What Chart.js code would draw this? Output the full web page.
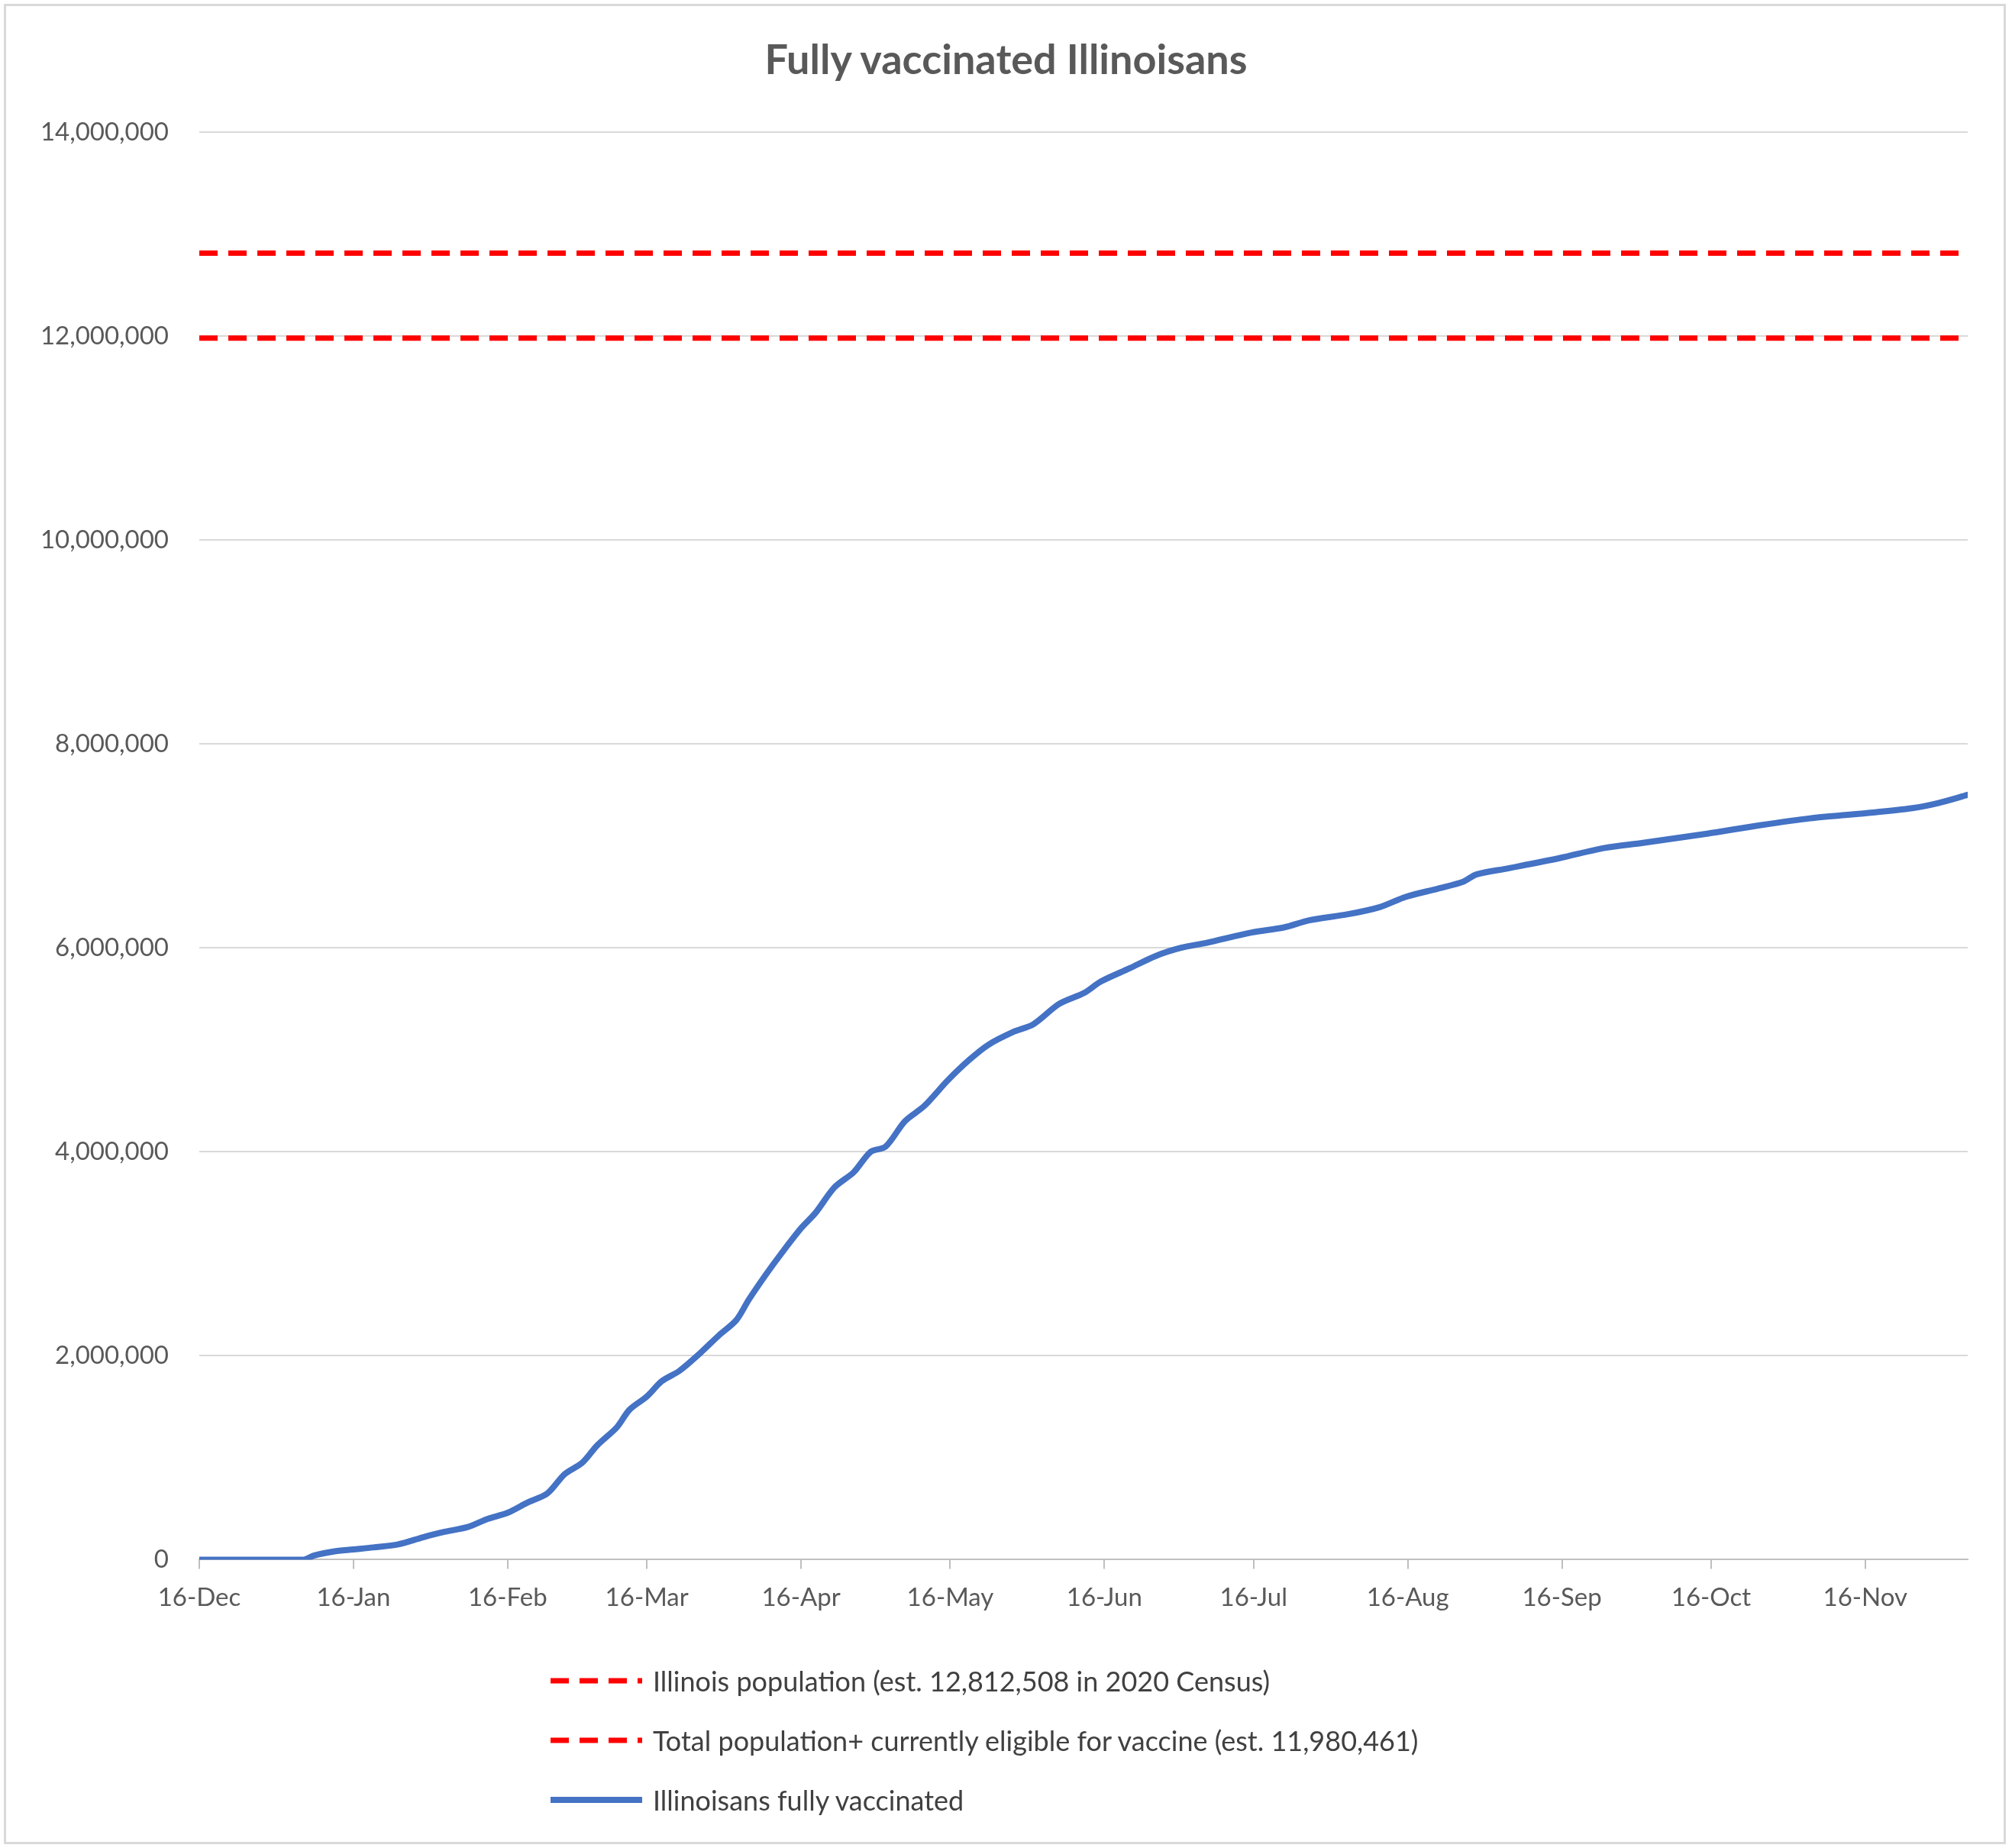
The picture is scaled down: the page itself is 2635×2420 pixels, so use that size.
<!DOCTYPE html>
<html><head><meta charset="utf-8">
<script src="https://cdn.jsdelivr.net/npm/chart.js@4/dist/chart.umd.min.js"></script>
<style>
body{margin:0;background:#fff;font-family:Lato,"Open Sans",sans-serif;}
#wrap{position:relative;width:2635px;height:2420px;}
#frame{position:absolute;left:5px;top:5px;width:2622px;height:2410px;border:3px solid #d9d9d9;box-sizing:border-box;}
#title{position:absolute;top:44px;left:0;width:100%;text-align:center;font-size:54px;font-weight:bold;color:#595959;}
#legend{position:absolute;left:721px;top:2162px;font-size:36px;color:#404040;}
.row{height:78px;display:flex;align-items:center;}
.row svg{margin-right:14px;}
canvas{position:absolute;left:0;top:0;}
</style></head><body>
<div id="wrap">
<div id="frame"></div>
<canvas id="c" width="2635" height="2420"></canvas>
<div id="title">Fully vaccinated Illinoisans</div>
<div id="legend">
<div class="row"><svg width="120" height="10"><line x1="0" y1="5" x2="120" y2="5" stroke="#ff0000" stroke-width="7" stroke-dasharray="24,14"/></svg>Illinois population (est. 12,812,508 in 2020 Census)</div>
<div class="row"><svg width="120" height="10"><line x1="0" y1="5" x2="120" y2="5" stroke="#ff0000" stroke-width="7" stroke-dasharray="24,14"/></svg>Total population+ currently eligible for vaccine (est. 11,980,461)</div>
<div class="row"><svg width="120" height="10"><line x1="0" y1="5" x2="120" y2="5" stroke="#4472c4" stroke-width="8"/></svg>Illinoisans fully vaccinated</div>
</div>
</div>
<script>
const tickDays = [0,31,62,90,121,151,182,212,243,274,304,335];
const tickLabels = ["16-Dec","16-Jan","16-Feb","16-Mar","16-Apr","16-May","16-Jun","16-Jul","16-Aug","16-Sep","16-Oct","16-Nov"];
const vaxDays = [0,21,23,27,31,35,40,45,49,54,58,62,66,70,73.5,77,80,84,86.5,90,93,96.5,100.6,104.5,108,110.5,114,117,121,123.9,127.7,131.6,135,138,141.9,145.8,150.5,154.8,158.7,163.9,167.7,172.9,178,181.3,187.1,192.3,197.4,202.6,211.6,218.1,223.2,231,237.4,242.6,249,254.2,256.8,263.2,273.5,282.6,290.3,303.2,313.5,323.9,335,344.5,349.7,355.6];
const vaxValues = [0,0,40000,80000,100000,120000,150000,220000,270000,320000,400000,460000,560000,650000,840000,950000,1120000,1300000,1470000,1600000,1750000,1850000,2020000,2200000,2350000,2550000,2800000,3000000,3250000,3400000,3650000,3800000,4000000,4050000,4300000,4450000,4700000,4900000,5050000,5180000,5250000,5450000,5560000,5670000,5800000,5920000,6000000,6050000,6150000,6200000,6270000,6330000,6400000,6500000,6580000,6650000,6720000,6780000,6880000,6980000,7030000,7120000,7200000,7270000,7320000,7370000,7420000,7500000];
const popValue = 12812508;
const eligValue = 11980461;
const xMin = 0, xMax = 355.6;

const font = {family:"Lato, 'Open Sans', sans-serif", size:33};
new Chart(document.getElementById('c'), {
  type:'line',
  data:{datasets:[
    {label:'Illinois population (est. 12,812,508 in 2020 Census)', data:[{x:xMin,y:popValue},{x:xMax,y:popValue}], borderColor:'#ff0000', borderWidth:7, borderDash:[24,14], pointRadius:0},
    {label:'Total population+ currently eligible for vaccine (est. 11,980,461)', data:[{x:xMin,y:eligValue},{x:xMax,y:eligValue}], borderColor:'#ff0000', borderWidth:7, borderDash:[24,14], pointRadius:0},
    {label:'Illinoisans fully vaccinated', data:vaxDays.map((d,i)=>({x:d,y:vaxValues[i]})), borderColor:'#4472c4', borderWidth:8, pointRadius:0, tension:0.3, borderCapStyle:'round'}
  ]},
  options:{
    responsive:false, animation:false,
    layout:{padding:{top:173,right:58,bottom:290,left:0}},
    plugins:{legend:{display:false},title:{display:false},tooltip:{enabled:false}},
    scales:{
      x:{type:'linear',min:xMin,max:xMax,
        afterBuildTicks:s=>{s.ticks=tickDays.map(v=>({value:v}));},
        ticks:{font, color:'#595959', padding:18, maxRotation:0, autoSkip:false, callback:(v)=>tickLabels[tickDays.indexOf(v)]},
        grid:{drawOnChartArea:false, drawTicks:true, tickLength:12, color:'#bfbfbf', lineWidth:2},
        border:{color:'#bfbfbf', width:2}},
      y:{min:0,max:14000000,
        afterFit:s=>{s.width=261;},
        ticks:{stepSize:2000000, font, color:'#595959', padding:40, callback:v=>v.toLocaleString('en-US')},
        grid:{color:'#d9d9d9', lineWidth:2, drawTicks:false},
        border:{display:false}}
    }
  }
});
</script>
</body></html>
